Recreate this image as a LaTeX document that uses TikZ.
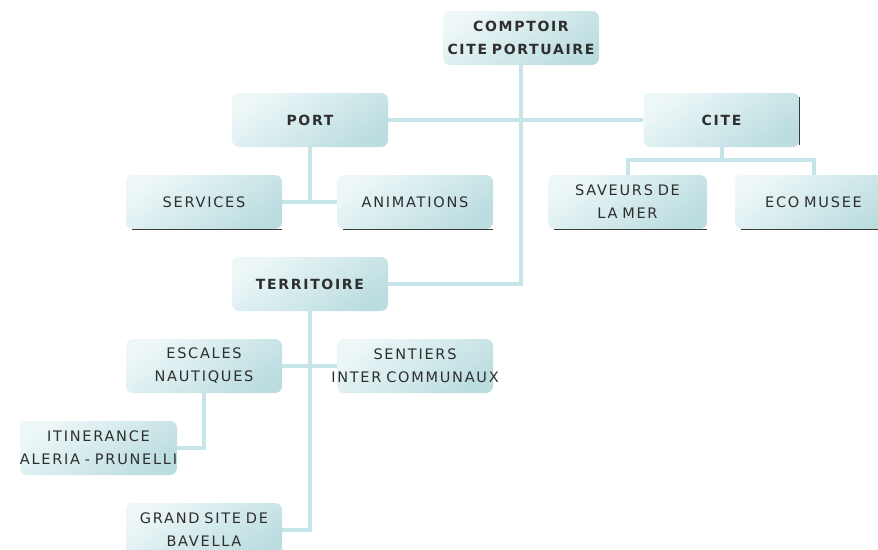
\documentclass[tikz,border=0pt]{standalone}
\usepackage{fontspec}
\setmainfont{DejaVu Sans}[LetterSpace=12]
\definecolor{boxA}{HTML}{EDF7F8}
\definecolor{boxB}{HTML}{BCDDE0}
\definecolor{linkc}{HTML}{C6E5E8}
\definecolor{txt}{HTML}{2E2E2E}
\definecolor{edgec}{HTML}{3A3A3A}
\newcommand\ctl[1]{\makebox[140pt][c]{#1}}
\pgfdeclarelayer{bg}
\pgfsetlayers{bg,main}
\tikzset{
  orgbox/.style={rounded corners=7pt, minimum width=156pt, minimum height=54pt,
    text width=140pt, top color=boxA, bottom color=boxB, shading angle=35, inner sep=0pt,
    align=center, text=txt, font=\fontsize{14.5}{23}\selectfont},
  headbox/.style={orgbox, font=\fontsize{14}{23}\selectfont\bfseries},
  link/.style={draw=linkc, line width=4pt},
  edgeline/.style={draw=edgec, line width=1.1pt}
}
\begin{document}
\begin{tikzpicture}[x=1pt,y=-1pt]
\useasboundingbox (0,0) rectangle (878,549);
\clip (0,0) rectangle (878,549);
\node[headbox] (comptoir) at (521,38) {\ctl{COMPTOIR}\\\ctl{CITE PORTUAIRE}};
\node[headbox] (port) at (310,120) {PORT};
\node[headbox] (cite) at (721.5,120) {CITE};
\node[orgbox] (services) at (204,202) {SERVICES};
\node[orgbox] (animations) at (415,202) {ANIMATIONS};
\node[orgbox, minimum width=159pt] (saveurs) at (627.5,202) {SAVEURS DE\\LA MER};
\node[orgbox, minimum width=157pt] (eco) at (813.5,202) {ECO MUSEE};
\node[headbox] (territoire) at (310,284) {TERRITOIRE};
\node[orgbox] (escales) at (204,366) {ESCALES\\NAUTIQUES};
\node[orgbox] (sentiers) at (415,366) {\ctl{SENTIERS}\\\ctl{INTER COMMUNAUX}};
\node[orgbox, minimum width=157pt] (itin) at (98.5,448) {\ctl{ITINERANCE}\\\ctl{ALERIA - PRUNELLI}};
\node[orgbox] (grand) at (204,530) {GRAND SITE DE\\BAVELLA};
\begin{pgfonlayer}{bg}
\draw[link] (comptoir.south) -- (comptoir.south |- territoire.east) -- (territoire.east);
\draw[link] (port.east) -- (cite.west);
\draw[link] (port.south) -- (port.south |- services.east);
\draw[link] (services.east) -- (animations.west);
\coordinate (citej) at ([yshift=-13pt]cite.south);
\draw[link] (cite.south) -- (citej);
\draw[link] (saveurs.north) -- (saveurs.north |- citej) -- (eco.north |- citej) -- (eco.north);
\draw[link] (territoire.south) -- (territoire.south |- grand.east) -- (grand.east);
\draw[link] (escales.east) -- (sentiers.west);
\draw[link] (escales.south) -- (escales.south |- itin.east) -- (itin.east);
\end{pgfonlayer}
\draw[edgeline] ([xshift=6pt]services.south west) -- (services.south east);
\draw[edgeline] ([xshift=6pt]animations.south west) -- (animations.south east);
\draw[edgeline] ([xshift=6pt]saveurs.south west) -- (saveurs.south east);
\draw[edgeline] ([xshift=6pt]eco.south west) -- (eco.south east);
\draw[edgeline] ([yshift=2pt]cite.south east) -- ([yshift=-4pt]cite.north east);
\end{tikzpicture}
\end{document}
